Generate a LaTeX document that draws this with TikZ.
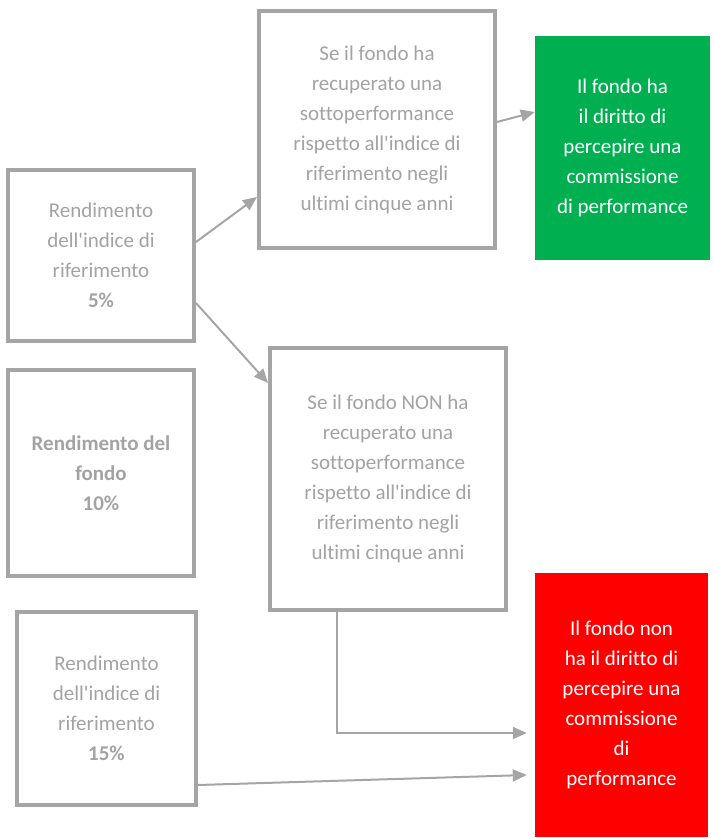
\documentclass[tikz,border=0pt]{standalone}
\usepackage{fontspec}
\setmainfont{Carlito}[Ligatures={NoCommon,TeXOff}]
\usepackage{xcolor}
\usetikzlibrary{arrows.meta, positioning}

\definecolor{boxgray}{HTML}{A5A5A5}
\definecolor{txtgray}{HTML}{A3A3A3}
\definecolor{okgreen}{HTML}{00B050}
\definecolor{nored}{HTML}{FF0000}

\begin{document}
\begin{tikzpicture}[x=1pt, y=-1pt,
    box/.style={rectangle, draw=boxgray, line width=4pt, fill=white, text=txtgray, align=center, inner sep=0pt, font=\fontsize{21}{30}\selectfont},
    outcome/.style={rectangle, align=center, text=white, inner sep=0pt, font=\fontsize{21}{30}\selectfont},
    yesbox/.style={outcome, fill=okgreen},
    nobox/.style={outcome, fill=nored},
    link/.style={draw=boxgray, line width=2pt, -{Triangle[length=14pt,width=12pt]}}
]
\useasboundingbox (0,0) rectangle (714,838);

% Left column: returns
\node[box, minimum width=186pt, minimum height=171pt] (retFive) at (101,255.5) {Rendimento\\dell'indice di\\riferimento\\\textbf{5\%}};
\node[box, minimum width=186pt, minimum height=206pt] (retFund) at (101,473) {\textbf{Rendimento del}\\\textbf{fondo}\\\textbf{10\%}};
\node[box, minimum width=179pt, minimum height=193pt] (retFifteen) at (106.5,708.5) {Rendimento\\dell'indice di\\riferimento\\\textbf{15\%}};

% Middle column: conditions
\node[box, minimum width=236pt, minimum height=237pt] (recovered) at (377,129.5) {Se il fondo ha\\recuperato una\\sottoperformance\\rispetto all'indice di\\riferimento negli\\ultimi cinque anni};
\node[box, minimum width=236pt, minimum height=262pt] (notRecovered) at (388,479) {Se il fondo NON ha\\recuperato una\\sottoperformance\\rispetto all'indice di\\riferimento negli\\ultimi cinque anni};

% Right column: outcomes
\node[yesbox, minimum width=175pt, minimum height=224pt] (feeYes) at (622.5,148) {Il fondo ha\\il diritto di\\percepire una\\commissione\\di performance};
\node[nobox, minimum width=173pt, minimum height=264pt] (feeNo) at (621.5,705) {Il fondo non\\ha il diritto di\\percepire una\\commissione\\di\\performance};

% Connectors
\draw[link] ([yshift=13.5pt]retFive.east) -- ([yshift=-67.5pt]recovered.west);
\draw[link] ([yshift=-47.5pt]retFive.east) -- ([yshift=96pt]notRecovered.west);
\draw[link] ([yshift=7.5pt]recovered.east) -- ([yshift=36pt]feeYes.west);
\coordinate (noTopIn) at ([xshift=-8pt, yshift=-28pt]feeNo.west);
\draw[link] ([xshift=-51pt]notRecovered.south) |- (noTopIn);
\draw[link] ([yshift=-76.5pt]retFifteen.east) -- ([xshift=-8pt, yshift=-70pt]feeNo.west);
\end{tikzpicture}
\end{document}
